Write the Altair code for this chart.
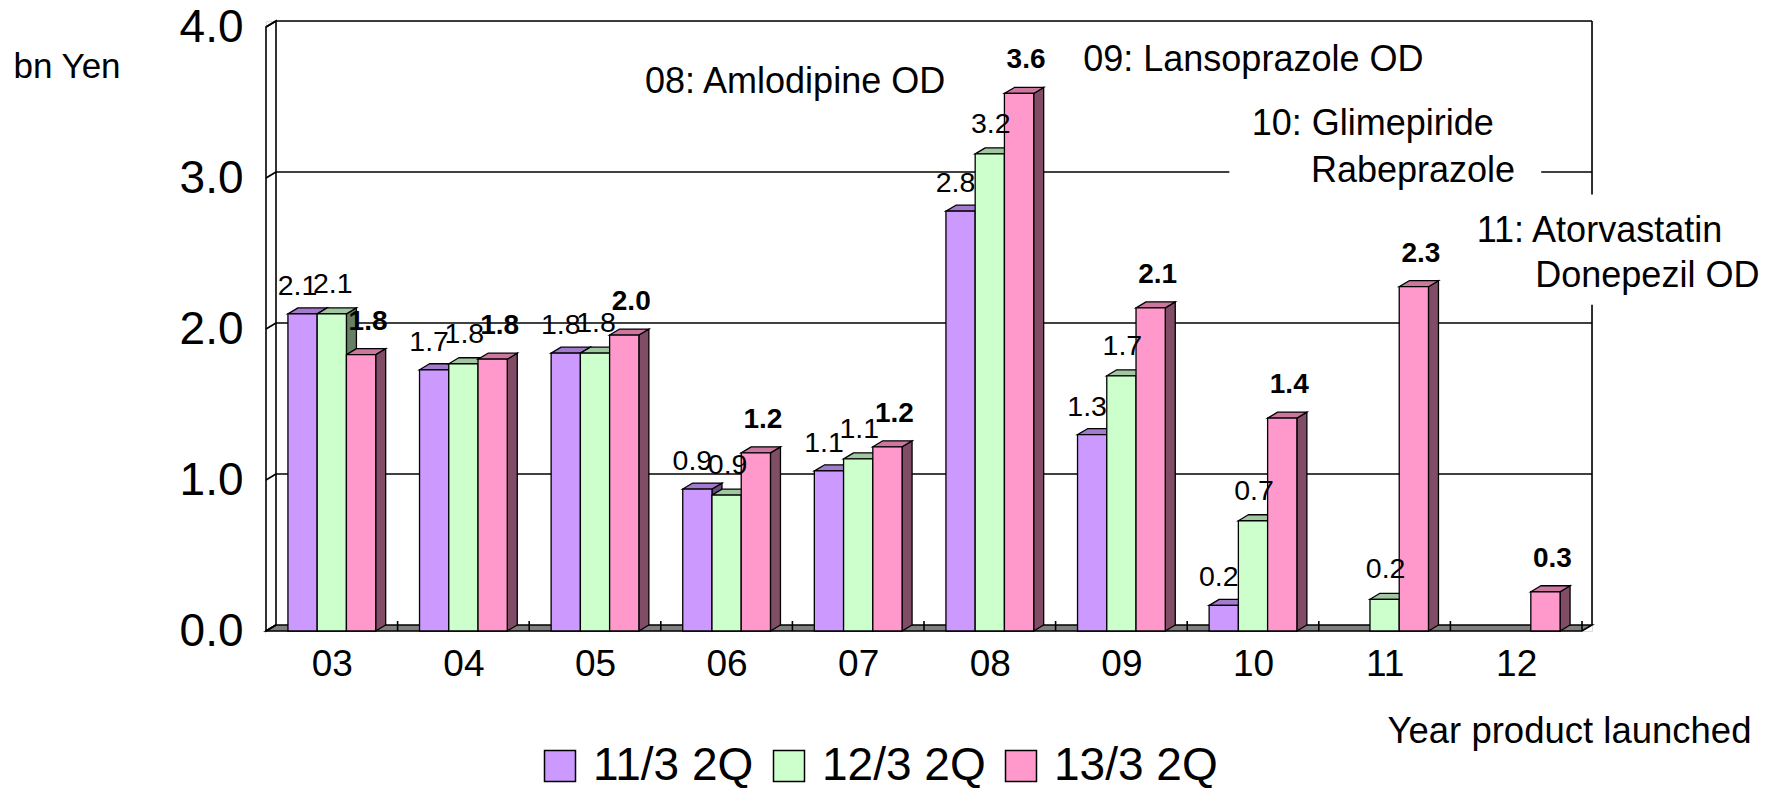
import json
import altair as alt
import pandas as pd

# ---------------- data ----------------
years = ["03", "04", "05", "06", "07", "08", "09", "10", "11", "12"]
series = ["11/3 2Q", "12/3 2Q", "13/3 2Q"]
sales_11 = [2.10, 1.73, 1.84, 0.94, 1.06, 2.78, 1.30, 0.17, 0.0, 0.0]
sales_12 = [2.10, 1.77, 1.84, 0.90, 1.14, 3.16, 1.69, 0.73, 0.21, 0.0]
sales_13 = [1.83, 1.80, 1.96, 1.18, 1.22, 3.56, 2.14, 1.41, 2.28, 0.26]
y_ticks = [0, 1, 2, 3, 4]

# annotation texts (layout placed in data coordinates: band units / bn Yen)
notes_text = ["08: Amlodipine OD", "09: Lansoprazole OD", "10: Glimepiride",
              "Rabeprazole", "11: Atorvastatin", "Donepezil OD"]
notes_x = [2.88, 6.21, 7.49, 7.94, 9.20, 9.645]
notes_y = [3.56, 3.71, 3.285, 2.975, 2.575, 2.275]

# ---------------- styles ----------------
FONT = "Liberation Sans"
front_cols = ["#CC99FF", "#CCFFCC", "#FF99CC"]
top_cols = ["#A37ACC", "#A0C8A0", "#CC77A0"]
side_cols = ["#664C80", "#668066", "#804C66"]

N = len(years)
GROUP = 2 / 3
BW = GROUP / len(series)
DX = 10 / 131.6      # 3D depth in x (band units)
DY = 6 / 151         # 3D depth in y (value units)
YMAX = 4

# ---------------- geometry tables ----------------
fronts, sides, tops = [], [], []
for k, (s, vals) in enumerate(zip(series, [sales_11, sales_12, sales_13])):
    for i, (yr, v) in enumerate(zip(years, vals)):
        if v <= 0:
            continue
        x0 = i + 0.5 - GROUP / 2 + k * BW
        x1 = x0 + BW
        bid = f"{s}-{yr}"
        fronts.append(dict(series=s, k=k, year=yr, v=v, base=0.0, x0=x0, x1=x1, xc=(x0 + x1) / 2))
        sides.append(dict(id=bid, col=side_cols[k], xs=x1, ylo=0.0, yhi=v))
        sides.append(dict(id=bid, col=side_cols[k], xs=x1 + DX, ylo=DY, yhi=v + DY))
        tops.append(dict(id=bid, col=top_cols[k], yt=v, xa=x0, xb=x1))
        tops.append(dict(id=bid, col=top_cols[k], yt=v + DY, xa=x0 + DX, xb=x1 + DX))
fronts = pd.DataFrame(fronts)
sides = pd.DataFrame(sides)
tops = pd.DataFrame(tops)

wall_df = pd.DataFrame(dict(x=[0, DX], ylo=[0, DY], yhi=[YMAX, YMAX + DY]))
floor_df = pd.DataFrame(dict(y=[0, DY], xa=[0, DX], xb=[N, N + DX]))
grid_df = pd.DataFrame(dict(y=[t + DY for t in y_ticks[1:]], x=DX, x2=N + DX))
frame_df = pd.DataFrame(dict(x=[N + DX], y=[DY], y2=[YMAX + DY]))
conn_df = pd.DataFrame(dict(x=0.0, x2=DX, y=y_ticks, y2=[t + DY for t in y_ticks]))
ftick_df = pd.DataFrame(dict(x=list(range(1, N + 1)), y=0.0, y2=10 / 151))
notes_df = pd.DataFrame(dict(text=notes_text, x=notes_x, y=notes_y))
boxes_df = pd.DataFrame(dict(x=[7.32, 9.20], x2=[9.69, 11.40], y=[3.0, 2.16], y2=[3.08, 2.89]))

# ---------------- scales / axes ----------------
xscale = alt.Scale(domain=[0, N + DX], nice=False, zero=False)
yscale = alt.Scale(domain=[0, YMAX + DY], nice=False, zero=False)

xaxis = alt.Axis(
    values=[i + 0.5 for i in range(N)],
    labelExpr=json.dumps(years) + "[floor(datum.value)]",
    ticks=False, domain=False, grid=False, labelOverlap=False, labelFlush=False,
    labelFontSize=37, labelPadding=15, labelColor="black", labelFont=FONT,
    title="Year product launched", titleFontSize=36.5, titleFontWeight="normal",
    titleFont=FONT, titleColor="black", titleAnchor="start", titleAlign="left",
    titleBaseline="alphabetic", titleX=1121, titleY=111,
)
yaxis = alt.Axis(
    values=y_ticks, format=".1f",
    ticks=False, domain=False, grid=False, labelOverlap=False,
    labelFontSize=46, labelPadding=23, labelColor="black", labelFont=FONT,
    title="bn Yen", titleAngle=0, titleFontSize=35, titleFontWeight="normal",
    titleFont=FONT, titleColor="black", titleAlign="left", titleBaseline="alphabetic",
    titleX=-253, titleY=56,
)


def X(f):
    return alt.X(field=f, type="quantitative", scale=xscale, axis=xaxis, stack=None)


def Y(f):
    return alt.Y(field=f, type="quantitative", scale=yscale, axis=yaxis, stack=None)


LW = 1.6

wall = alt.Chart(wall_df).mark_area(orient="vertical", fill="white", stroke="black", strokeWidth=LW).encode(
    x=X("x"), y=Y("yhi"), y2=alt.Y2("ylo"))
floor = alt.Chart(floor_df).mark_area(orient="horizontal", fill="#808080", stroke="black", strokeWidth=LW).encode(
    y=Y("y"), x=X("xa"), x2=alt.X2("xb"))
grid = alt.Chart(grid_df).mark_rule(color="black", strokeWidth=LW).encode(
    x=X("x"), x2=alt.X2("x2"), y=Y("y"))
frame = alt.Chart(frame_df).mark_rule(color="black", strokeWidth=LW).encode(
    x=X("x"), y=Y("y"), y2=alt.Y2("y2"))
conn = alt.Chart(conn_df).mark_rule(color="black", strokeWidth=LW).encode(
    x=X("x"), x2=alt.X2("x2"), y=Y("y"), y2=alt.Y2("y2"))
fticks = alt.Chart(ftick_df).mark_rule(color="black", strokeWidth=LW).encode(
    x=X("x"), y=Y("y"), y2=alt.Y2("y2"))

side_layer = alt.Chart(sides).mark_area(orient="vertical", stroke="black", strokeWidth=1.3).encode(
    x=X("xs"), y=Y("yhi"), y2=alt.Y2("ylo"), detail="id:N", fill=alt.Fill("col:N", scale=None))
top_layer = alt.Chart(tops).mark_area(orient="horizontal", stroke="black", strokeWidth=1.3).encode(
    y=Y("yt"), x=X("xa"), x2=alt.X2("xb"), detail="id:N", fill=alt.Fill("col:N", scale=None))
front_layer = alt.Chart(fronts).mark_rect(stroke="black", strokeWidth=1.3).encode(
    x=X("x0"), x2=alt.X2("x1"), y=Y("v"), y2=alt.Y2("base"),
    color=alt.Color("series:N", scale=alt.Scale(domain=series, range=front_cols),
                    legend=alt.Legend(orient="none", legendX=271, legendY=722, direction="horizontal",
                                      columns=3, title=None, symbolType="square", symbolSize=961,
                                      symbolStrokeColor="black", symbolStrokeWidth=1.5,
                                      labelFontSize=46, labelFont=FONT,
                                      labelColor="black", labelOffset=10, columnPadding=12,
                                      padding=0, labelLimit=0)),
)

labels_a = alt.Chart(fronts[fronts.k == 0]).mark_text(
    fontSize=28.5, font=FONT, baseline="middle", dx=-5, dy=-28, color="black").encode(
    x=X("xc"), y=Y("v"), text=alt.Text("v:Q", format=".1f"))
labels_b = alt.Chart(fronts[fronts.k == 1]).mark_text(
    fontSize=28.5, font=FONT, baseline="middle", dx=1, dy=-30, color="black").encode(
    x=X("xc"), y=Y("v"), text=alt.Text("v:Q", format=".1f"))
labels_c = alt.Chart(fronts[fronts.k == 2]).mark_text(
    fontSize=28, font=FONT, fontWeight="bold", baseline="middle", dx=7, dy=-33, color="black").encode(
    x=X("xc"), y=Y("v"), text=alt.Text("v:Q", format=".1f"))

boxes = alt.Chart(boxes_df).mark_rect(fill="white", stroke=None).encode(
    x=X("x"), x2=alt.X2("x2"), y=Y("y"), y2=alt.Y2("y2"))
notes = alt.Chart(notes_df).mark_text(
    fontSize=36, font=FONT, align="left", baseline="alphabetic", color="black").encode(
    x=X("x"), y=Y("y"), text="text:N")

chart = alt.layer(
    wall, floor, grid, frame, conn, fticks,
    side_layer, top_layer, front_layer,
    labels_a, labels_b, labels_c,
    boxes, notes,
).properties(
    width=1326, height=610,
    padding={"left": 258, "top": 13, "right": 172, "bottom": 157},
    autosize=alt.AutoSizeParams(type="none"),
    background="white",
).configure_view(stroke=None).configure(font=FONT)

chart.save("out.html", embed_options={"renderer": "svg", "actions": False})
